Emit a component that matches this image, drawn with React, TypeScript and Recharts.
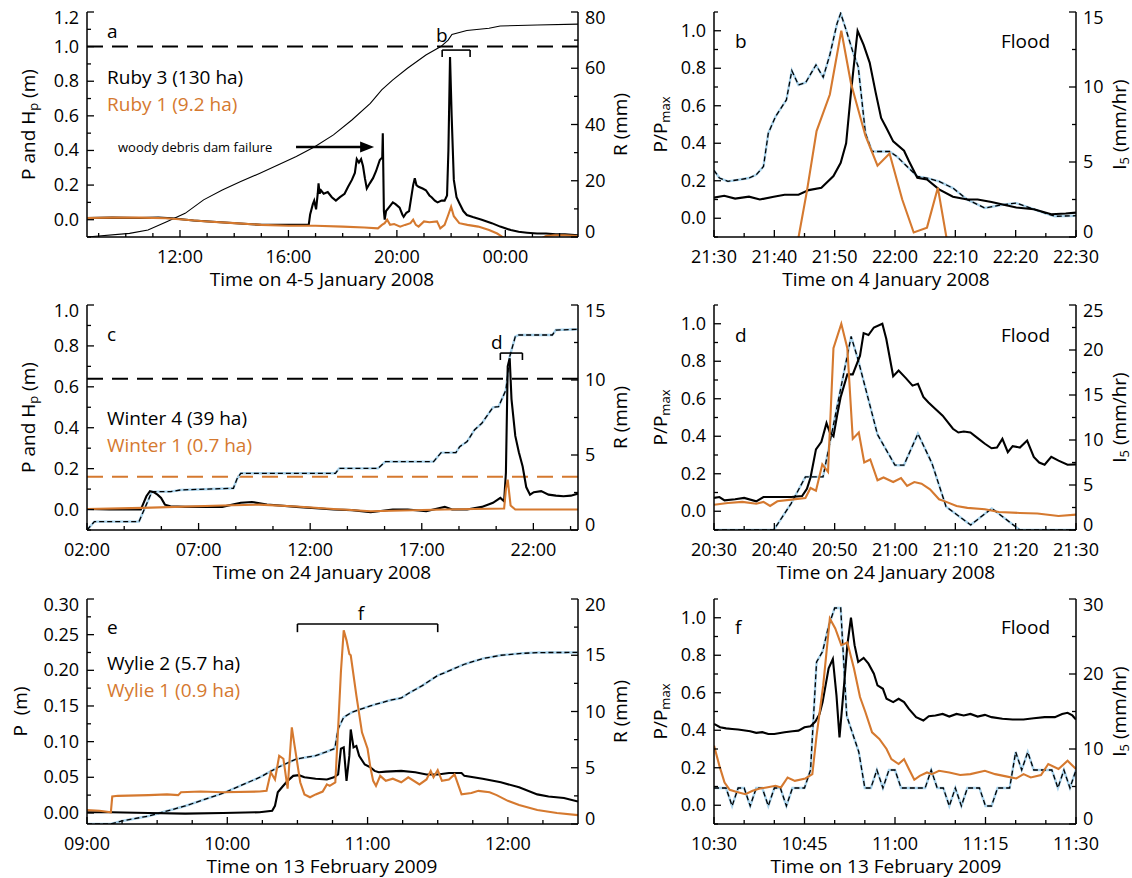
import React from 'react';
import { LineChart, Line, XAxis, YAxis, ReferenceLine } from 'recharts';

type Pt = [number, number];

// ================= Panel a : 4-5 January 2008 (x = hours since 00:00, 4 Jan) =================
const ruby3Level: Pt[] = [
  [8.57, 0.01], [9.5, 0.012], [10.5, 0.01], [11.2, 0.012], [11.7, 0.008], [12.5, -0.005], [13.5, -0.015],
  [14.5, -0.025], [15.0, -0.03], [16.0, -0.03], [16.75, -0.028], [16.8, 0.03], [16.9, 0.09], [16.95, 0.11],
  [17.02, 0.06], [17.08, 0.15], [17.11, 0.21], [17.15, 0.15], [17.2, 0.17], [17.3, 0.15], [17.45, 0.16],
  [17.6, 0.13], [17.75, 0.11], [17.9, 0.13], [18.07, 0.15], [18.2, 0.19], [18.34, 0.23], [18.45, 0.27],
  [18.52, 0.35], [18.6, 0.33], [18.68, 0.35], [18.75, 0.31], [18.82, 0.24], [18.89, 0.18], [19.0, 0.21],
  [19.12, 0.24], [19.23, 0.28], [19.37, 0.345], [19.46, 0.36], [19.48, 0.5], [19.52, 0.05], [19.55, 0.0],
  [19.6, 0.05], [19.7, 0.07], [19.85, 0.1], [19.95, 0.09], [20.1, 0.07], [20.2, 0.03], [20.25, 0.017],
  [20.35, 0.04], [20.45, 0.05], [20.6, 0.2], [20.66, 0.24], [20.72, 0.2], [20.8, 0.19], [20.95, 0.18],
  [21.07, 0.17], [21.2, 0.14], [21.28, 0.13], [21.4, 0.11], [21.5, 0.1], [21.65, 0.11], [21.76, 0.11],
  [21.85, 0.14], [21.9, 0.4], [21.96, 0.94], [22.02, 0.6], [22.1, 0.23], [22.2, 0.13], [22.31, 0.094],
  [22.45, 0.05], [22.58, 0.027], [22.8, 0.015], [23.13, 0.0], [23.5, -0.02], [23.81, -0.04], [24.2, -0.06],
  [24.49, -0.07], [24.8, -0.075], [25.17, -0.08], [25.5, -0.08], [25.86, -0.085], [26.2, -0.085], [26.68, -0.09],
];
const ruby1Level: Pt[] = [
  [8.57, 0.01], [9.5, 0.012], [10.5, 0.012], [11.5, 0.008], [12.2, 0.0], [13.0, -0.01], [14.0, -0.02],
  [15.0, -0.03], [16.0, -0.035], [17.0, -0.035], [18.0, -0.04], [18.8, -0.045], [19.3, -0.05], [19.45, -0.03],
  [19.55, -0.02], [19.64, 0.0], [19.75, -0.03], [19.9, -0.025], [20.12, -0.04], [20.3, -0.03], [20.5, -0.02],
  [20.6, 0.0], [20.7, -0.03], [20.8, -0.04], [21.0, -0.01], [21.2, -0.015], [21.48, -0.01], [21.6, -0.05],
  [21.76, -0.03], [21.9, 0.03], [22.0, 0.075], [22.1, 0.02], [22.3, -0.02], [22.6, -0.03], [23.0, -0.04],
  [23.4, -0.06], [23.7, -0.08], [23.9, -0.1], [24.1, -0.13], [24.8, -0.13], [25.3, -0.11], [25.5, -0.095],
  [25.8, -0.09], [26.2, -0.09], [26.68, -0.095],
];
const rubyRain: Pt[] = [
  [8.57, 0], [10.14, 1.3], [10.82, 2.5], [11.51, 5.4], [12.19, 8.4], [12.87, 13.2], [13.56, 16.7],
  [14.24, 19.7], [14.93, 22.6], [15.61, 25.6], [16.29, 28.6], [16.97, 32.1], [17.66, 36.3], [18.34, 41.6],
  [19.02, 47.5], [19.44, 52.3], [19.84, 55.8], [20.39, 60], [21.07, 64.7], [21.62, 67.7], [21.89, 70],
  [22.03, 72], [22.58, 73.4], [23.4, 74.2], [23.81, 75], [25.17, 75.4], [26.68, 75.7],
];

// ================= Panel b : 4 January 2008 (x = minutes after 21:30) =================
const bRuby3Norm: Pt[] = [
  [0, 0.11], [1.7, 0.12], [3.5, 0.105], [5.8, 0.115], [7.6, 0.1], [9.9, 0.115], [11.7, 0.125], [14, 0.125],
  [15.7, 0.15], [17.8, 0.163], [19.8, 0.225], [21, 0.296], [21.9, 0.4], [22.7, 0.67], [23.8, 1.0], [24.8, 0.925],
  [25.8, 0.83], [26.8, 0.67], [27.7, 0.535], [28.6, 0.48], [29.7, 0.41], [31.5, 0.36], [32.3, 0.305],
  [33.7, 0.216], [35.3, 0.207], [37.3, 0.154], [39.6, 0.115], [42, 0.1], [43.7, 0.1], [46, 0.087], [48.4, 0.069],
  [50.1, 0.057], [53, 0.048], [55.9, 0.021], [58.3, 0.025], [60, 0.03],
];
const bRuby1Norm: Pt[] = [
  [13, -0.28], [15.4, 0.145], [17, 0.465], [19.2, 0.66], [21.1, 1.0], [22.7, 0.72], [25.1, 0.44], [27.1, 0.28],
  [29.1, 0.345], [31.2, 0.1], [33.1, -0.076], [35.3, -0.05], [37.1, 0.163], [39, -0.19],
];
const bIntensity: Pt[] = [
  [0, 4.44], [0.9, 3.93], [2.3, 3.71], [4.1, 3.82], [5.8, 3.93], [7, 4.15], [8.2, 4.7], [9, 6.92], [10.2, 8.03],
  [12, 9.14], [12.9, 11.09], [14, 10.14], [15.2, 10.3], [16.9, 11.47], [18.1, 10.65], [19.2, 12.14],
  [20.4, 14.24], [21, 14.91], [21.9, 13.8], [23, 12.36], [23.9, 11.36], [25.1, 6.92], [26.2, 5.7], [27.7, 5.7],
  [29.1, 5.7], [30.3, 5.37], [32, 4.7], [33.7, 4.04], [35.3, 3.93], [37.3, 3.71], [39.6, 3.26], [42, 2.49],
  [44.9, 1.93], [47.8, 2.15], [50.1, 2.26], [52.5, 1.93], [54.8, 1.6], [56.5, 1.38], [60, 1.42],
];

// ================= Panel c : 24 January 2008 (x = hours) =================
const winter4Level: Pt[] = [
  [2, 0.003], [3, 0.0], [4.41, 0.0], [4.66, 0.065], [4.82, 0.09], [4.99, 0.085], [5.16, 0.073], [5.32, 0.057],
  [5.49, 0.024], [5.74, 0.016], [6.4, 0.013], [8.06, 0.013], [8.89, 0.033], [9.39, 0.037], [10.06, 0.025],
  [11.39, 0.013], [13.05, 0.0], [13.88, -0.003], [14.71, -0.013], [15.7, 0.0], [16.37, 0.0], [17.2, -0.008],
  [18.03, 0.013], [18.36, 0.0], [19.03, 0.0], [19.69, 0.013], [20.19, 0.033], [20.52, 0.057], [20.69, 0.04],
  [20.77, 0.18], [20.85, 0.7], [20.94, 0.74], [21.02, 0.54], [21.19, 0.36], [21.35, 0.28], [21.52, 0.21],
  [21.68, 0.11], [21.85, 0.073], [22.02, 0.085], [22.35, 0.09], [22.68, 0.073], [23.01, 0.068], [23.35, 0.065],
  [23.68, 0.068], [24, 0.078],
];
const winter1Level: Pt[] = [
  [2, 0.003], [4.5, 0.008], [8.06, 0.02], [9.7, 0.024], [11.39, 0.015], [13.05, 0.003], [14.71, -0.008],
  [18.03, 0.0], [20.69, 0.005], [20.77, 0.1], [20.85, 0.146], [20.98, 0.02], [21.19, 0.0], [24, 0.0],
];
const winterRain: Pt[] = [
  [2, 0], [2.33, 0.56], [4.33, 0.56], [4.91, 2.56], [5.74, 2.56], [6.2, 2.67], [8.56, 2.78], [8.72, 3.4],
  [8.89, 3.78], [13.13, 3.78], [13.3, 4.11], [15.04, 4.11], [15.37, 4.56], [17.53, 4.56], [17.87, 5.16],
  [18.53, 5.16], [18.7, 5.56], [19.03, 5.89], [19.36, 6.67], [19.69, 7.11], [20.19, 8.18], [20.44, 8.22],
  [20.77, 9.33], [20.94, 11.56], [21.19, 12.89], [21.35, 13.0], [22.85, 13.0], [23.01, 13.33], [24, 13.38],
];
const winter4Threshold = 0.64;
const winter1Threshold = 0.16;

// ================= Panel d : 24 January 2008 (x = minutes after 20:30) =================
const dWinter4Norm: Pt[] = [
  [0, 0.071], [0.9, 0.076], [1.75, 0.058], [3.5, 0.064], [5, 0.071], [7, 0.053], [8.2, 0.076], [10.5, 0.076],
  [12.8, 0.076], [14.6, 0.081], [15.4, 0.12], [16, 0.18], [16.9, 0.33], [17.8, 0.37], [18.65, 0.47], [19.2, 0.42],
  [19.8, 0.4], [20.4, 0.51], [21, 0.61], [22.1, 0.73], [23, 0.73], [24.2, 0.83], [24.8, 0.95], [25.6, 0.94],
  [26.5, 0.98], [27.9, 1.0], [28.55, 0.92], [29.7, 0.72], [30.6, 0.75], [31.8, 0.71], [32.9, 0.67], [33.8, 0.68],
  [34.7, 0.61], [35.55, 0.58], [36.7, 0.545], [37.9, 0.51], [39.6, 0.44], [40.5, 0.42], [41.4, 0.425],
  [42.5, 0.42], [43.7, 0.39], [44.9, 0.36], [46, 0.336], [46.9, 0.34], [47.8, 0.386], [48.7, 0.315],
  [49.5, 0.347], [50.7, 0.34], [51.9, 0.377], [53, 0.29], [53.9, 0.26], [54.8, 0.248], [55.9, 0.29],
  [57.1, 0.27], [58.6, 0.248], [60, 0.25],
];
const dWinter1Norm: Pt[] = [
  [0, 0.035], [2.3, 0.044], [4.7, 0.05], [7, 0.04], [8.2, 0.05], [9.3, 0.028], [10.5, 0.053], [12.8, 0.062],
  [15.15, 0.071], [16, 0.124], [16.9, 0.11], [17.95, 0.25], [18.9, 0.21], [19.8, 0.87], [21.1, 1.0], [22.1, 0.87],
  [23, 0.386], [24, 0.42], [24.9, 0.26], [25.9, 0.276], [27.1, 0.165], [28.1, 0.18], [29.7, 0.156], [31, 0.177],
  [32, 0.135], [33.2, 0.156], [34.4, 0.147], [35.8, 0.117], [37.3, 0.064], [38.5, 0.05], [40.2, 0.028],
  [42, 0.018], [44.9, 0.011], [47.2, -0.004], [50.7, -0.009], [53.6, -0.012], [57.1, -0.025], [60, -0.018],
];
const dIntensity: Pt[] = [
  [0, 0], [9.9, 0], [12.8, 2.96], [15.15, 5.9], [18.07, 5.9], [22.73, 21.5], [23.89, 18.9], [27.1, 10.6],
  [30, 7.2], [31.47, 7.2], [33.8, 10.7], [36.13, 7.4], [38.46, 2.6], [42.54, 0.56], [46.04, 2.4], [50.7, 0],
  [60, 0],
];

// ================= Panel e : 13 February 2009 (x = hours) =================
const wylie2Level: Pt[] = [
  [9, 0.001], [9.17, 0.001], [9.44, 0.0], [9.7, -0.001], [9.97, 0.0], [10.23, 0.001], [10.32, 0.003],
  [10.34, 0.01], [10.36, 0.029], [10.39, 0.036], [10.43, 0.045], [10.47, 0.052], [10.51, 0.053], [10.55, 0.05],
  [10.63, 0.048], [10.71, 0.047], [10.76, 0.05], [10.79, 0.054], [10.81, 0.09], [10.83, 0.092], [10.85, 0.045],
  [10.87, 0.08], [10.88, 0.117], [10.9, 0.092], [10.92, 0.094], [10.94, 0.08], [10.98, 0.068], [11.02, 0.064],
  [11.05, 0.059], [11.08, 0.057], [11.13, 0.058], [11.24, 0.059], [11.34, 0.057], [11.42, 0.054], [11.5, 0.054],
  [11.58, 0.056], [11.67, 0.056], [11.69, 0.052], [11.82, 0.048], [11.95, 0.043], [12.08, 0.036], [12.21, 0.026],
  [12.29, 0.023], [12.4, 0.021], [12.5, 0.016],
];
const wylie1Level: Pt[] = [
  [9, 0.004], [9.09, 0.003], [9.17, 0.001], [9.18, 0.023], [9.22, 0.024], [9.44, 0.025], [9.57, 0.026],
  [9.65, 0.025], [9.67, 0.029], [9.81, 0.03], [9.97, 0.029], [10.23, 0.03], [10.28, 0.031], [10.31, 0.057],
  [10.34, 0.047], [10.37, 0.08], [10.4, 0.076], [10.43, 0.034], [10.46, 0.12], [10.48, 0.094], [10.52, 0.043],
  [10.55, 0.026], [10.59, 0.022], [10.63, 0.026], [10.68, 0.03], [10.71, 0.04], [10.73, 0.038], [10.77, 0.043],
  [10.79, 0.118], [10.81, 0.198], [10.83, 0.256], [10.85, 0.242], [10.87, 0.223], [10.88, 0.221], [10.92, 0.165],
  [10.96, 0.113], [11.0, 0.09], [11.02, 0.064], [11.04, 0.045], [11.06, 0.038], [11.09, 0.052], [11.13, 0.045],
  [11.18, 0.048], [11.24, 0.043], [11.29, 0.05], [11.37, 0.04], [11.42, 0.047], [11.45, 0.059], [11.47, 0.05],
  [11.5, 0.06], [11.53, 0.045], [11.58, 0.047], [11.62, 0.054], [11.67, 0.026], [11.74, 0.028], [11.79, 0.031],
  [11.87, 0.029], [11.92, 0.025], [12.0, 0.017], [12.08, 0.011], [12.21, 0.004], [12.35, 0.0], [12.5, -0.003],
];
const wylieRain: Pt[] = [
  [9, 0], [9.17, 0], [9.25, 0.27], [9.44, 0.71], [9.7, 1.6], [9.97, 2.74], [10.23, 4.14], [10.36, 5.03],
  [10.49, 5.77], [10.63, 6.07], [10.76, 6.67], [10.77, 6.96], [10.79, 8.45], [10.83, 9.49], [10.89, 9.94],
  [11.02, 10.5], [11.16, 11.0], [11.24, 11.2], [11.29, 11.6], [11.39, 12.3], [11.5, 13.2], [11.55, 13.45],
  [11.69, 14.2], [11.82, 14.7], [11.95, 15.0], [12.08, 15.15], [12.21, 15.24], [12.5, 15.25],
];

// ================= Panel f : 13 February 2009 (x = minutes after 10:30) =================
const fWylie2Norm: Pt[] = [
  [0, 0.434], [1, 0.416], [2, 0.41], [3, 0.407], [4, 0.404], [6, 0.395], [7, 0.386], [8, 0.39], [9, 0.38],
  [10, 0.38], [11.7, 0.389], [13, 0.395], [14, 0.398], [15, 0.416], [16, 0.421], [16.8, 0.446], [17.5, 0.487],
  [18, 0.55], [19, 0.73], [19.7, 0.78], [20.3, 0.586], [20.8, 0.362], [21.6, 0.657], [22.1, 0.854], [22.7, 1.0],
  [23.3, 0.854], [23.9, 0.764], [24.8, 0.786], [25.6, 0.755], [26.5, 0.702], [27.1, 0.639], [28, 0.621],
  [28.6, 0.568], [29.7, 0.55], [30.6, 0.568], [31.5, 0.55], [32.3, 0.514], [33.5, 0.47], [34.7, 0.452],
  [35.6, 0.475], [36.7, 0.479], [37.9, 0.487], [39, 0.473], [40.2, 0.487], [41.4, 0.479], [42.5, 0.487],
  [43.7, 0.473], [44.9, 0.482], [46, 0.47], [47.8, 0.461], [49.5, 0.457], [51.3, 0.457], [53, 0.464],
  [54.8, 0.47], [56.5, 0.47], [57.7, 0.487], [58.6, 0.493], [59.4, 0.479], [60, 0.457],
];
const fWylie1Norm: Pt[] = [
  [0, 0.318], [0.9, 0.21], [1.75, 0.121], [2.6, 0.082], [3.8, 0.071], [5.2, 0.059], [6.4, 0.077], [7.6, 0.089],
  [8.7, 0.095], [10.2, 0.104], [11.1, 0.095], [12.2, 0.148], [13.4, 0.13], [15.15, 0.143], [16.3, 0.166],
  [17, 0.371], [18.1, 0.639], [19.2, 0.996], [20.1, 0.943], [21.1, 0.854], [22.1, 0.868], [23.2, 0.729],
  [24.2, 0.577], [25.1, 0.496], [26.2, 0.389], [27.4, 0.354], [28.6, 0.3], [29.4, 0.246], [30.6, 0.22],
  [31.5, 0.246], [32.3, 0.193], [33.2, 0.136], [34.1, 0.157], [35.3, 0.175], [36.1, 0.166], [37.3, 0.184],
  [39, 0.175], [40.8, 0.161], [42.5, 0.166], [44.9, 0.184], [46.6, 0.166], [48.4, 0.154], [50.1, 0.143],
  [51.3, 0.166], [52.5, 0.148], [54.2, 0.161], [55.4, 0.22], [57.1, 0.193], [58.6, 0.237], [60, 0.193],
];
const fIntensityMinute = [
  0, 1, 2, 3, 4, 5, 6, 7, 8, 9, 10, 11, 12, 13, 14, 15, 16, 17, 18, 19, 20, 21, 22, 23, 24, 25, 26, 27, 28, 29,
  30, 31, 32, 33, 34, 35, 36, 37, 38, 39, 40, 41, 42, 43, 44, 45, 46, 47, 48, 49, 50, 51, 52, 53, 54, 55, 56,
  57, 58, 59, 60,
];
const fIntensityValue = [
  4.8, 4.8, 4.8, 2.4, 4.8, 4.8, 2.4, 4.8, 4.8, 2.4, 4.8, 4.8, 2.4, 4.8, 4.8, 4.8, 7.2, 21.6, 23.0, 26.4, 28.8,
  28.8, 14.4, 12.0, 9.6, 4.8, 4.8, 7.2, 4.8, 7.2, 7.2, 4.8, 4.8, 4.8, 4.8, 4.8, 7.2, 4.8, 4.8, 2.4, 4.8, 2.4,
  4.8, 4.8, 4.8, 2.4, 2.4, 4.8, 4.8, 4.8, 9.6, 7.2, 9.6, 7.2, 7.2, 7.2, 7.2, 4.8, 7.2, 4.8, 7.2,
];
const fIntensity: Pt[] = fIntensityMinute.map((m, i) => [m, fIntensityValue[i]]);

// ================= Ticks =================
const aXMajor = [12, 16, 20, 24];
const aXLabels = ['12:00', '16:00', '20:00', '00:00'];
const aXMinor = [9, 10, 11, 13, 14, 15, 17, 18, 19, 21, 22, 23, 25, 26];
const cXMajor = [2, 7, 12, 17, 22];
const cXLabels = ['02:00', '07:00', '12:00', '17:00', '22:00'];
const cXMinor = [3.667, 5.333, 8.667, 10.333, 13.667, 15.333, 18.667, 20.333, 23.667];
const eXMajor = [9, 10, 11, 12];
const eXLabels = ['09:00', '10:00', '11:00', '12:00'];
const eXMinor = [9.25, 9.5, 9.75, 10.25, 10.5, 10.75, 11.25, 11.5, 11.75, 12.25];
const bdXMajor = [0, 10, 20, 30, 40, 50, 60];
const bXLabels = ['21:30', '21:40', '21:50', '22:00', '22:10', '22:20', '22:30'];
const dXLabels = ['20:30', '20:40', '20:50', '21:00', '21:10', '21:20', '21:30'];
const bdXMinor = [5, 15, 25, 35, 45, 55];
const fXMajor = [0, 15, 30, 45, 60];
const fXLabels = ['10:30', '10:45', '11:00', '11:15', '11:30'];
const fXMinor = [5, 10, 20, 25, 35, 40, 50, 55];

const aYMajor = [0, 0.2, 0.4, 0.6, 0.8, 1.0, 1.2];
const aYLabels = ['0.0', '0.2', '0.4', '0.6', '0.8', '1.0', '1.2'];
const aYMinor = [-0.1, 0.1, 0.3, 0.5, 0.7, 0.9, 1.1];
const cYMajor = [0, 0.2, 0.4, 0.6, 0.8, 1.0];
const cYLabels = ['0.0', '0.2', '0.4', '0.6', '0.8', '1.0'];
const cYMinor = [-0.1, 0.1, 0.3, 0.5, 0.7, 0.9];
const eYMajor = [0, 0.05, 0.1, 0.15, 0.2, 0.25, 0.3];
const eYLabels = ['0.00', '0.05', '0.10', '0.15', '0.20', '0.25', '0.30'];
const eYMinor = [0.025, 0.075, 0.125, 0.175, 0.225, 0.275];
const normYMajor = [0, 0.2, 0.4, 0.6, 0.8, 1.0];
const normYLabels = ['0.0', '0.2', '0.4', '0.6', '0.8', '1.0'];
const normYMinor = [-0.1, 0.1, 0.3, 0.5, 0.7, 0.9, 1.1];

const aRMajor = [0, 20, 40, 60, 80];
const aRMinor = [10, 30, 50, 70];
const cRMajor = [0, 5, 10, 15];
const cRMinor = [2.5, 7.5, 12.5];
const eRMajor = [0, 5, 10, 15, 20];
const eRMinor = [2.5, 7.5, 12.5, 17.5];
const bIMajor = [0, 5, 10, 15];
const bIMinor = [2.5, 7.5, 12.5];
const dIMajor = [0, 5, 10, 15, 20, 25];
const dIMinor = [2.5, 7.5, 12.5, 17.5, 22.5];
const fIMajor = [0, 10, 20, 30];
const fIMinor = [5, 15, 25];

// ================= Styling =================
const FONT = '"Open Sans", "DejaVu Sans", sans-serif';
const ORANGE = '#d5792f';
const BLUE = '#a9d3ec';
const PLOT_H = 225;
const CH_H = 12 + PLOT_H + 40;

type Kind = 'black' | 'orange' | 'rainThin' | 'rainDash';
interface Series { data: Pt[]; axis: 'L' | 'R'; kind: Kind; }
interface Seg { x1: number; y1: number; x2: number; y2: number; }
interface Spec {
  id: string; left: number; plotTop: number; width: number; leftW: number; rightW: number;
  xDomain: [number, number]; xMajor: number[]; xLabels: string[]; xMinor: number[];
  yDomain: [number, number]; yMajor: number[]; yLabels: string[]; yMinor: number[];
  rDomain: [number, number]; rMajor: number[]; rMinor: number[];
  series: Series[];
  refs?: { y: number; color: string }[];
  brackets?: Seg[];
  arrow?: Seg;
}

const isIn = (arr: number[], v: number) => arr.findIndex((m) => Math.abs(m - v) < 1e-6);
const edgeShift = (v: number, dom: [number, number]) =>
  Math.abs(v - dom[0]) < 1e-6 ? -5 : Math.abs(v - dom[1]) < 1e-6 ? 6 : 0;

const tickText = { fontFamily: FONT, fontSize: 18, fill: '#000' } as const;

const bottomTick = (majors: number[], labels: string[]) => (p: any) => {
  const v = p.payload.value;
  const i = isIn(majors, v);
  return (
    <g>
      <line x1={p.x} x2={p.x} y1={p.y} y2={p.y - (i >= 0 ? 7 : 4)} stroke="#000" strokeWidth={1.3} />
      {i >= 0 && (
        <text x={p.x} y={p.y + 26} textAnchor="middle" {...tickText}>{labels[i]}</text>
      )}
    </g>
  );
};
const topTick = (majors: number[]) => (p: any) => {
  const i = isIn(majors, p.payload.value);
  return <line x1={p.x} x2={p.x} y1={p.y} y2={p.y + (i >= 0 ? 7 : 4)} stroke="#000" strokeWidth={1.3} />;
};
const leftTick = (majors: number[], labels: string[], dom: [number, number]) => (p: any) => {
  const v = p.payload.value;
  const i = isIn(majors, v);
  return (
    <g>
      <line x1={p.x} x2={p.x + (i >= 0 ? 7 : 4)} y1={p.y} y2={p.y} stroke="#000" strokeWidth={1.3} />
      {i >= 0 && (
        <text x={p.x - 8} y={p.y + 6 + edgeShift(v, dom)} textAnchor="end" {...tickText}>{labels[i]}</text>
      )}
    </g>
  );
};
const rightTick = (majors: number[], dom: [number, number]) => (p: any) => {
  const v = p.payload.value;
  const i = isIn(majors, v);
  return (
    <g>
      <line x1={p.x} x2={p.x - (i >= 0 ? 7 : 4)} y1={p.y} y2={p.y} stroke="#000" strokeWidth={1.3} />
      {i >= 0 && (
        <text x={p.x + 7} y={p.y + 6 + edgeShift(v, dom)} textAnchor="start" {...tickText}>{String(v)}</text>
      )}
    </g>
  );
};

const toRows = (pts: Pt[]) => pts.map(([x, y]) => ({ x, y }));

const arrowShape = (p: any) => {
  const { x1, y1, x2, y2 } = p;
  return (
    <g>
      <line x1={x1} y1={y1} x2={x2 - 10} y2={y2} stroke="#000" strokeWidth={2.4} />
      <polygon points={`${x2},${y2} ${x2 - 14},${y2 - 5.5} ${x2 - 14},${y2 + 5.5}`} fill="#000" />
    </g>
  );
};

function Panel({ s }: { s: Spec }) {
  const axisLine = { stroke: '#000', strokeWidth: 1.5 };
  const xTicks = [...s.xMajor, ...s.xMinor].sort((a, b) => a - b);
  const yTicks = [...s.yMajor, ...s.yMinor].sort((a, b) => a - b);
  const rTicks = [...s.rMajor, ...s.rMinor].sort((a, b) => a - b);
  const lines: React.ReactNode[] = [];
  s.series.forEach((se, k) => {
    const data = toRows(se.data);
    const common = {
      data, dataKey: 'y', xAxisId: 'b', yAxisId: se.axis, dot: false as const, isAnimationActive: false,
      type: 'linear' as const, activeDot: false as const,
    };
    if (se.kind === 'rainDash') {
      lines.push(<Line key={`${k}u`} {...common} stroke={BLUE} strokeWidth={2.4} />);
      lines.push(<Line key={`${k}o`} {...common} stroke="#000" strokeWidth={1.3} strokeDasharray="5 3" />);
    } else if (se.kind === 'rainThin') {
      lines.push(<Line key={k} {...common} stroke="#000" strokeWidth={1.1} />);
    } else if (se.kind === 'black') {
      lines.push(<Line key={k} {...common} stroke="#000" strokeWidth={2.1} />);
    } else {
      lines.push(<Line key={k} {...common} stroke={ORANGE} strokeWidth={2.1} />);
    }
  });
  return (
    <div style={{ position: 'absolute', left: s.left, top: s.plotTop - 12, width: s.width, height: CH_H }}>
      <LineChart width={s.width} height={CH_H} margin={{ top: 12, right: 0, bottom: 0, left: 0 }}>
        <XAxis xAxisId="b" dataKey="x" type="number" domain={s.xDomain} allowDataOverflow ticks={xTicks}
          interval={0} tickSize={0} tickMargin={0} tickLine={false} axisLine={axisLine} height={40}
          tick={bottomTick(s.xMajor, s.xLabels)} />
        <XAxis xAxisId="t" orientation="top" dataKey="x" type="number" domain={s.xDomain} allowDataOverflow
          ticks={xTicks} interval={0} tickSize={0} tickMargin={0} tickLine={false} axisLine={axisLine} height={0}
          tick={topTick(s.xMajor)} />
        <YAxis yAxisId="L" type="number" domain={s.yDomain} allowDataOverflow ticks={yTicks} interval={0}
          tickSize={0} tickMargin={0} tickLine={false} axisLine={axisLine} width={s.leftW}
          tick={leftTick(s.yMajor, s.yLabels, s.yDomain)} />
        <YAxis yAxisId="R" orientation="right" type="number" domain={s.rDomain} allowDataOverflow ticks={rTicks}
          interval={0} tickSize={0} tickMargin={0} tickLine={false} axisLine={axisLine} width={s.rightW}
          tick={rightTick(s.rMajor, s.rDomain)} />
        {(s.refs || []).map((r, i) => (
          <ReferenceLine key={`r${i}`} xAxisId="b" yAxisId="L" y={r.y} stroke={r.color} strokeWidth={2}
            strokeDasharray="16 9" />
        ))}
        {lines}
        {(s.brackets || []).map((b, i) => (
          <ReferenceLine key={`k${i}`} xAxisId="b" yAxisId="L" stroke="#000" strokeWidth={1.6}
            segment={[{ x: b.x1, y: b.y1 }, { x: b.x2, y: b.y2 }]} />
        ))}
        {s.arrow && (
          <ReferenceLine xAxisId="b" yAxisId="L" stroke="#000" shape={arrowShape}
            segment={[{ x: s.arrow.x1, y: s.arrow.y1 }, { x: s.arrow.x2, y: s.arrow.y2 }]} />
        )}
      </LineChart>
    </div>
  );
}

const bracket = (x1: number, x2: number, yTop: number, yEnd: number): Seg[] => [
  { x1, y1: yTop, x2, y2: yTop },
  { x1, y1: yTop, x2: x1, y2: yEnd },
  { x1: x2, y1: yTop, x2, y2: yEnd },
];

const LEFT = { left: 0, width: 640, leftW: 87, rightW: 62 };
const RIGHT = { left: 640, width: 492, leftW: 74, rightW: 56 };
const ROW_TOP = [12, 305, 599];

const panels: Spec[] = [
  {
    id: 'a', ...LEFT, plotTop: ROW_TOP[0], xDomain: [8.57, 26.68], xMajor: aXMajor, xLabels: aXLabels, xMinor: aXMinor,
    yDomain: [-0.1, 1.2], yMajor: aYMajor, yLabels: aYLabels, yMinor: aYMinor,
    rDomain: [0, 80], rMajor: aRMajor, rMinor: aRMinor,
    series: [
      { data: rubyRain, axis: 'R', kind: 'rainThin' },
      { data: ruby3Level, axis: 'L', kind: 'black' },
      { data: ruby1Level, axis: 'L', kind: 'orange' },
    ],
    refs: [{ y: 1.0, color: '#000' }],
    brackets: bracket(21.67, 22.7, 0.98, 0.94),
    arrow: { x1: 16.28, y1: 0.42, x2: 19.16, y2: 0.42 },
  },
  {
    id: 'b', ...RIGHT, plotTop: ROW_TOP[0], xDomain: [0, 60], xMajor: bdXMajor, xLabels: bXLabels, xMinor: bdXMinor,
    yDomain: [-0.1, 1.1], yMajor: normYMajor, yLabels: normYLabels, yMinor: normYMinor,
    rDomain: [0, 15], rMajor: bIMajor, rMinor: bIMinor,
    series: [
      { data: bIntensity, axis: 'R', kind: 'rainDash' },
      { data: bRuby3Norm, axis: 'L', kind: 'black' },
      { data: bRuby1Norm, axis: 'L', kind: 'orange' },
    ],
  },
  {
    id: 'c', ...LEFT, plotTop: ROW_TOP[1], xDomain: [2, 24], xMajor: cXMajor, xLabels: cXLabels, xMinor: cXMinor,
    yDomain: [-0.1, 1.0], yMajor: cYMajor, yLabels: cYLabels, yMinor: cYMinor,
    rDomain: [0, 15], rMajor: cRMajor, rMinor: cRMinor,
    series: [
      { data: winterRain, axis: 'R', kind: 'rainDash' },
      { data: winter4Level, axis: 'L', kind: 'black' },
      { data: winter1Level, axis: 'L', kind: 'orange' },
    ],
    refs: [{ y: winter4Threshold, color: '#000' }, { y: winter1Threshold, color: ORANGE }],
    brackets: bracket(20.52, 21.51, 0.765, 0.731),
  },
  {
    id: 'd', ...RIGHT, plotTop: ROW_TOP[1], xDomain: [0, 60], xMajor: bdXMajor, xLabels: dXLabels, xMinor: bdXMinor,
    yDomain: [-0.1, 1.1], yMajor: normYMajor, yLabels: normYLabels, yMinor: normYMinor,
    rDomain: [0, 25], rMajor: dIMajor, rMinor: dIMinor,
    series: [
      { data: dIntensity, axis: 'R', kind: 'rainDash' },
      { data: dWinter4Norm, axis: 'L', kind: 'black' },
      { data: dWinter1Norm, axis: 'L', kind: 'orange' },
    ],
  },
  {
    id: 'e', ...LEFT, plotTop: ROW_TOP[2], xDomain: [9, 12.5], xMajor: eXMajor, xLabels: eXLabels, xMinor: eXMinor,
    yDomain: [-0.0155, 0.3], yMajor: eYMajor, yLabels: eYLabels, yMinor: eYMinor,
    rDomain: [0, 20], rMajor: eRMajor, rMinor: eRMinor,
    series: [
      { data: wylieRain, axis: 'R', kind: 'rainDash' },
      { data: wylie2Level, axis: 'L', kind: 'black' },
      { data: wylie1Level, axis: 'L', kind: 'orange' },
    ],
    brackets: bracket(10.5, 11.5, 0.265, 0.2535),
  },
  {
    id: 'f', ...RIGHT, plotTop: ROW_TOP[2], xDomain: [0, 60], xMajor: fXMajor, xLabels: fXLabels, xMinor: fXMinor,
    yDomain: [-0.1, 1.1], yMajor: normYMajor, yLabels: normYLabels, yMinor: normYMinor,
    rDomain: [0, 30], rMajor: fIMajor, rMinor: fIMinor,
    series: [
      { data: fIntensity, axis: 'R', kind: 'rainDash' },
      { data: fWylie2Norm, axis: 'L', kind: 'black' },
      { data: fWylie1Norm, axis: 'L', kind: 'orange' },
    ],
  },
];

const T = { fontFamily: FONT, fill: '#000' } as const;

function VTitle({ x, y, children }: { x: number; y: number; children: React.ReactNode }) {
  return (
    <text transform={`translate(${x},${y}) rotate(-90)`} textAnchor="middle" dominantBaseline="central"
      fontSize={19} {...T}>
      {children}
    </text>
  );
}

function Overlay() {
  const rowMid = ROW_TOP.map((t) => t + PLOT_H / 2);
  const xTitles = [
    ['Time on 4-5 January 2008', 'Time on 4 January 2008'],
    ['Time on 24 January 2008', 'Time on 24 January 2008'],
    ['Time on 13 February 2009', 'Time on 13 February 2009'],
  ];
  const legends = [
    ['Ruby 3 (130 ha)', 'Ruby 1 (9.2 ha)'],
    ['Winter 4 (39 ha)', 'Winter 1 (0.7 ha)'],
    ['Wylie 2 (5.7 ha)', 'Wylie 1 (0.9 ha)'],
  ];
  const legendBase = [84, 425, 670];
  const letterBase = [38, 341, 634];
  const rightLetterBase = [48, 342, 634];
  return (
    <svg width={1132} height={878} style={{ position: 'absolute', left: 0, top: 0, pointerEvents: 'none' }}>
      {ROW_TOP.map((t, r) => (
        <g key={r}>
          <text x={322} y={t + PLOT_H + 49} textAnchor="middle" fontSize={19} {...T}>{xTitles[r][0]}</text>
          <text x={886} y={t + PLOT_H + 49} textAnchor="middle" fontSize={19} {...T}>{xTitles[r][1]}</text>
          <VTitle x={620} y={rowMid[r]}>R (mm)</VTitle>
          <VTitle x={660} y={rowMid[r]}>
            P/P<tspan dy={5} fontSize={13}>max</tspan>
          </VTitle>
          <VTitle x={1119} y={rowMid[r]}>
            I<tspan dy={5} fontSize={13}>5</tspan><tspan dy={-5}> (mm/hr)</tspan>
          </VTitle>
          <text x={107} y={legendBase[r]} fontSize={19} {...T}>{legends[r][0]}</text>
          <text x={107} y={legendBase[r] + 27} fontSize={19} {...T} fill={ORANGE}>{legends[r][1]}</text>
          <text x={107} y={letterBase[r]} fontSize={19} {...T}>{['a', 'c', 'e'][r]}</text>
          <text x={735} y={rightLetterBase[r]} fontSize={19} {...T}>{['b', 'd', 'f'][r]}</text>
          <text x={1001} y={rightLetterBase[r]} fontSize={19} {...T}>Flood</text>
        </g>
      ))}
      <VTitle x={28} y={rowMid[0]}>
        P and H<tspan dy={5} fontSize={13}>p</tspan><tspan dy={-5}> (m)</tspan>
      </VTitle>
      <VTitle x={28} y={rowMid[1]}>
        P and H<tspan dy={5} fontSize={13}>p</tspan><tspan dy={-5}> (m)</tspan>
      </VTitle>
      <VTitle x={20} y={rowMid[2]}>{'P\u00A0\u00A0(m)'}</VTitle>
      <text x={436} y={42} fontSize={19} {...T}>b</text>
      <text x={491} y={349} fontSize={19} {...T}>d</text>
      <text x={361} y={620} textAnchor="middle" fontSize={19} {...T}>f</text>
      <text x={118} y={152} fontSize={13} {...T}>woody debris dam failure</text>
    </svg>
  );
}

export default function App() {
  return (
    <div style={{ position: 'absolute', left: 0, top: 0, width: 1132, height: 878, background: '#fff', overflow: 'hidden' }}>
      {panels.map((s) => (
        <Panel key={s.id} s={s} />
      ))}
      <Overlay />
    </div>
  );
}
